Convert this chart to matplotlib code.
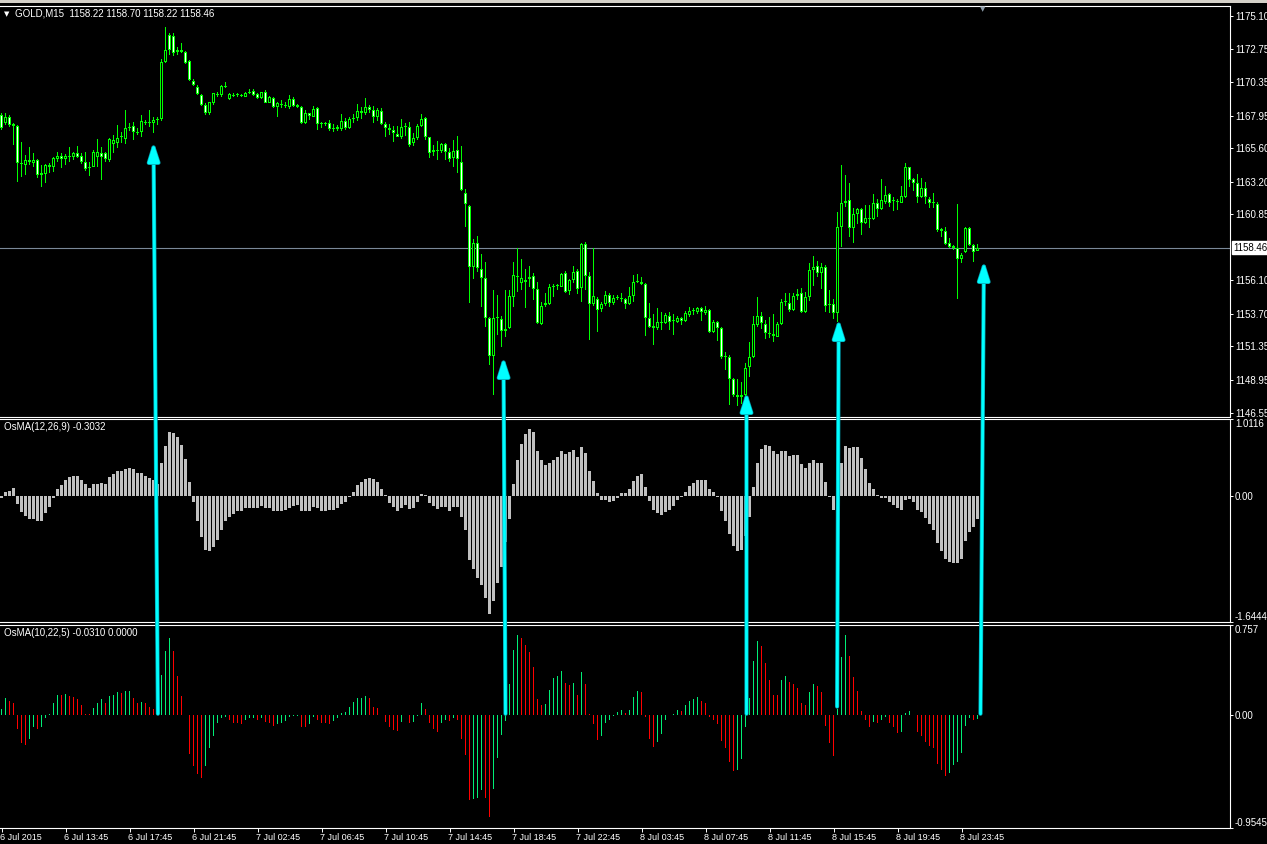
import numpy as np
import matplotlib
matplotlib.use('Agg')
import matplotlib.pyplot as plt
import matplotlib.patheffects as pe
from matplotlib.patches import ConnectionPatch, Rectangle
from matplotlib.transforms import ScaledTranslation

plt.rcParams['font.family'] = ['Liberation Sans', 'DejaVu Sans']

# GOLD M15 candles
opens = [
    1168.00, 1167.40, 1167.88, 1167.33, 1167.23, 1164.52, 1164.40, 1164.76, 1164.57, 1164.76,
    1163.85, 1163.75, 1164.40, 1164.28, 1164.81, 1165.05, 1164.81, 1165.05, 1165.00, 1165.24,
    1165.05, 1164.64, 1164.16, 1164.28, 1165.00, 1165.24, 1165.24, 1164.76, 1165.91, 1165.96,
    1166.39, 1166.25, 1167.04, 1167.21, 1166.80, 1166.80, 1167.52, 1167.40, 1167.40, 1167.64,
    1167.69, 1171.84, 1173.76, 1173.69, 1172.56, 1172.68, 1172.51, 1171.89, 1170.45, 1169.99,
    1169.44, 1168.72, 1168.12, 1168.84, 1169.44, 1169.44, 1170.09, 1169.13, 1169.44, 1169.42,
    1169.46, 1169.32, 1169.61, 1169.75, 1169.49, 1169.20, 1169.63, 1168.89, 1169.20, 1168.55,
    1168.79, 1168.70, 1168.60, 1169.13, 1168.72, 1168.60, 1167.40, 1168.12, 1167.88, 1168.48,
    1167.35, 1167.33, 1167.40, 1167.02, 1166.97, 1166.97, 1167.59, 1167.04, 1167.74, 1167.76,
    1168.31, 1168.12, 1168.55, 1168.36, 1167.88, 1168.29, 1167.33, 1167.09, 1166.92, 1166.61,
    1166.39, 1167.16, 1167.16, 1165.96, 1166.32, 1167.21, 1167.76, 1166.39, 1165.48, 1165.46,
    1165.41, 1165.91, 1165.36, 1164.88, 1165.48, 1164.64, 1162.36, 1161.47, 1157.08, 1158.76,
    1156.89, 1156.24, 1153.36, 1150.65, 1153.36, 1153.29, 1152.47, 1152.64, 1154.92, 1156.36,
    1155.93, 1156.12, 1156.17, 1156.41, 1155.45, 1152.95, 1154.32, 1154.39, 1155.64, 1155.74,
    1155.64, 1156.60, 1155.35, 1156.12, 1156.79, 1155.52, 1158.69, 1156.41, 1154.37, 1154.75,
    1154.01, 1154.37, 1155.04, 1154.44, 1154.80, 1154.82, 1154.73, 1154.37, 1154.97, 1155.98,
    1156.00, 1155.81, 1153.36, 1152.81, 1152.64, 1153.07, 1153.05, 1153.53, 1153.19, 1153.12,
    1153.36, 1153.19, 1153.60, 1153.89, 1153.84, 1154.08, 1153.72, 1153.96, 1152.40, 1153.12,
    1152.64, 1150.60, 1150.60, 1148.97, 1147.86, 1147.72, 1147.84, 1149.83, 1150.55, 1152.88,
    1153.53, 1152.95, 1152.30, 1152.23, 1152.04, 1152.95, 1154.51, 1154.44, 1153.96, 1154.97,
    1155.16, 1153.84, 1154.87, 1156.84, 1157.13, 1156.60, 1157.08, 1154.34, 1154.39, 1153.72,
    1159.96, 1161.64, 1161.88, 1159.89, 1160.85, 1161.21, 1160.25, 1160.54, 1160.49, 1161.64,
    1161.21, 1161.76, 1162.29, 1161.88, 1161.76, 1161.69, 1162.12, 1164.23, 1163.37, 1163.08,
    1162.07, 1162.72, 1161.95, 1161.74, 1161.59, 1159.77, 1159.65, 1158.76, 1158.54, 1158.40,
    1157.61, 1158.16, 1159.89, 1158.64, 1158.22]
highs = [
    1168.12, 1168.12, 1168.00, 1167.40, 1167.28, 1166.08, 1165.12, 1165.72, 1165.24, 1164.81,
    1164.40, 1164.45, 1164.52, 1165.00, 1165.36, 1165.24, 1165.19, 1165.72, 1165.36, 1165.77,
    1165.24, 1165.36, 1164.64, 1165.48, 1166.25, 1165.72, 1165.36, 1166.32, 1166.56, 1167.28,
    1166.80, 1168.36, 1167.45, 1167.52, 1167.04, 1168.00, 1167.64, 1168.36, 1167.88, 1167.83,
    1172.01, 1174.36, 1173.93, 1173.88, 1172.92, 1173.21, 1172.63, 1171.96, 1170.57, 1170.16,
    1169.49, 1168.84, 1168.96, 1169.61, 1169.68, 1170.16, 1170.40, 1169.56, 1169.61, 1169.56,
    1169.51, 1169.66, 1169.85, 1169.85, 1169.56, 1169.68, 1169.80, 1169.37, 1169.27, 1168.96,
    1169.08, 1168.96, 1169.44, 1169.32, 1168.79, 1168.65, 1168.36, 1168.17, 1168.65, 1168.55,
    1167.52, 1167.50, 1167.64, 1167.35, 1167.28, 1168.07, 1167.76, 1167.83, 1168.07, 1168.79,
    1168.55, 1169.20, 1168.70, 1168.65, 1168.48, 1168.48, 1167.52, 1167.35, 1167.21, 1167.21,
    1167.69, 1167.40, 1167.52, 1166.73, 1167.35, 1168.07, 1167.83, 1166.44, 1165.84, 1166.15,
    1166.01, 1165.96, 1165.60, 1166.20, 1166.49, 1165.77, 1162.65, 1161.52, 1159.05, 1159.29,
    1157.99, 1157.44, 1153.48, 1155.40, 1155.04, 1153.53, 1155.40, 1155.40, 1157.44, 1158.40,
    1157.61, 1156.89, 1157.13, 1156.65, 1156.00, 1154.56, 1155.16, 1155.83, 1155.83, 1155.83,
    1156.60, 1156.79, 1156.22, 1157.13, 1156.89, 1158.81, 1158.88, 1156.72, 1158.40, 1154.92,
    1154.56, 1155.35, 1155.16, 1155.04, 1155.04, 1155.16, 1154.80, 1155.64, 1156.48, 1156.55,
    1156.31, 1155.88, 1154.44, 1153.67, 1154.08, 1153.84, 1153.72, 1153.84, 1153.67, 1153.53,
    1153.48, 1153.91, 1154.20, 1154.08, 1154.15, 1154.20, 1154.25, 1154.01, 1153.24, 1153.19,
    1152.71, 1150.96, 1150.72, 1149.04, 1148.97, 1148.80, 1150.12, 1151.68, 1153.53, 1154.92,
    1153.84, 1153.24, 1153.48, 1153.67, 1153.12, 1154.73, 1155.21, 1155.21, 1155.21, 1155.45,
    1155.52, 1155.28, 1157.37, 1157.85, 1157.51, 1157.32, 1157.20, 1155.40, 1154.73, 1161.04,
    1164.40, 1163.68, 1163.13, 1161.28, 1161.28, 1161.28, 1161.52, 1161.52, 1162.31, 1161.93,
    1163.37, 1162.89, 1162.41, 1162.12, 1161.93, 1162.89, 1164.52, 1164.28, 1163.44, 1163.75,
    1163.44, 1163.20, 1162.12, 1162.36, 1161.76, 1159.84, 1159.91, 1159.12, 1158.64, 1161.59,
    1158.09, 1159.96, 1159.96, 1158.71, 1158.70]
lows = [
    1166.92, 1167.28, 1167.16, 1165.84, 1163.20, 1163.56, 1163.68, 1164.40, 1164.28, 1163.44,
    1162.79, 1163.13, 1163.80, 1163.92, 1164.64, 1164.16, 1164.40, 1164.64, 1164.76, 1164.88,
    1164.47, 1163.99, 1163.61, 1164.23, 1164.28, 1163.32, 1164.64, 1164.64, 1165.24, 1165.60,
    1165.96, 1165.91, 1166.87, 1166.20, 1166.56, 1166.44, 1167.28, 1167.16, 1166.73, 1167.28,
    1167.59, 1171.77, 1172.32, 1172.25, 1172.32, 1172.44, 1171.67, 1170.47, 1170.09, 1169.44,
    1168.65, 1168.00, 1168.00, 1168.72, 1169.27, 1169.32, 1169.92, 1169.08, 1169.27, 1169.32,
    1169.27, 1169.27, 1169.51, 1169.37, 1169.13, 1169.13, 1168.84, 1168.84, 1168.48, 1167.83,
    1168.48, 1168.48, 1168.41, 1168.55, 1168.48, 1167.35, 1167.35, 1167.64, 1167.83, 1166.92,
    1167.04, 1167.21, 1166.87, 1166.78, 1166.87, 1166.87, 1166.92, 1166.97, 1167.45, 1167.59,
    1167.69, 1168.00, 1168.17, 1167.45, 1167.59, 1167.26, 1166.39, 1166.56, 1166.08, 1166.39,
    1166.25, 1166.49, 1165.72, 1165.77, 1166.20, 1167.16, 1166.20, 1164.88, 1165.05, 1164.76,
    1165.24, 1164.76, 1164.64, 1164.28, 1163.80, 1162.55, 1159.96, 1154.49, 1156.17, 1156.72,
    1154.20, 1152.76, 1150.00, 1147.84, 1152.16, 1151.27, 1152.04, 1152.57, 1154.20, 1155.28,
    1155.40, 1154.08, 1155.64, 1154.68, 1152.95, 1152.88, 1154.20, 1154.32, 1154.92, 1155.40,
    1155.59, 1155.21, 1155.04, 1155.88, 1155.11, 1154.56, 1155.40, 1151.80, 1154.25, 1152.40,
    1153.84, 1154.25, 1154.15, 1154.32, 1154.68, 1154.56, 1154.01, 1154.30, 1154.56, 1155.88,
    1155.76, 1152.09, 1152.64, 1151.44, 1152.52, 1152.52, 1152.95, 1152.52, 1152.16, 1153.00,
    1152.88, 1153.12, 1153.48, 1153.60, 1153.67, 1153.19, 1153.60, 1152.33, 1152.33, 1151.75,
    1150.41, 1149.64, 1147.12, 1147.72, 1147.05, 1147.19, 1147.60, 1149.16, 1150.48, 1152.76,
    1152.57, 1151.85, 1151.92, 1151.68, 1151.99, 1152.88, 1154.25, 1153.84, 1153.91, 1154.68,
    1153.77, 1153.77, 1154.63, 1155.69, 1156.36, 1155.45, 1153.84, 1153.72, 1153.29, 1153.12,
    1158.52, 1161.35, 1159.19, 1158.76, 1160.15, 1159.36, 1160.15, 1159.84, 1160.44, 1160.63,
    1161.16, 1161.59, 1161.35, 1161.11, 1161.16, 1161.64, 1162.00, 1162.84, 1162.55, 1161.69,
    1162.00, 1161.59, 1161.28, 1161.28, 1159.60, 1159.24, 1158.64, 1158.40, 1158.28, 1154.73,
    1157.32, 1158.09, 1158.57, 1157.44, 1158.22]
closes = [
    1167.04, 1167.88, 1167.28, 1167.23, 1164.52, 1164.47, 1164.76, 1164.64, 1164.76, 1163.68,
    1163.68, 1164.40, 1164.28, 1164.88, 1165.05, 1164.81, 1165.05, 1165.00, 1165.24, 1165.00,
    1164.64, 1164.09, 1164.23, 1165.31, 1165.31, 1165.00, 1164.81, 1166.25, 1166.20, 1166.32,
    1166.44, 1167.04, 1167.11, 1166.80, 1166.73, 1167.59, 1167.45, 1167.52, 1167.64, 1167.71,
    1171.84, 1172.68, 1172.68, 1172.44, 1172.68, 1172.54, 1171.77, 1170.52, 1170.16, 1169.49,
    1168.72, 1168.12, 1168.91, 1169.56, 1169.51, 1170.11, 1169.99, 1169.51, 1169.37, 1169.46,
    1169.37, 1169.61, 1169.66, 1169.44, 1169.20, 1169.63, 1168.89, 1169.27, 1168.55, 1168.84,
    1168.70, 1168.65, 1169.13, 1168.65, 1168.60, 1167.40, 1168.12, 1167.93, 1168.41, 1167.33,
    1167.33, 1167.38, 1166.97, 1166.99, 1167.16, 1167.59, 1167.04, 1167.71, 1167.76, 1168.31,
    1168.12, 1168.60, 1168.36, 1167.88, 1168.36, 1167.33, 1167.09, 1166.92, 1166.68, 1166.44,
    1167.11, 1167.18, 1165.84, 1166.32, 1167.21, 1167.69, 1166.39, 1165.29, 1165.34, 1165.43,
    1165.91, 1165.36, 1164.81, 1165.43, 1164.86, 1162.60, 1161.59, 1157.08, 1158.76, 1156.96,
    1156.24, 1153.36, 1150.65, 1153.36, 1153.41, 1152.47, 1152.62, 1154.97, 1156.46, 1156.41,
    1156.24, 1155.98, 1156.36, 1155.45, 1153.00, 1154.25, 1154.44, 1155.59, 1155.71, 1155.71,
    1156.55, 1155.28, 1156.12, 1156.67, 1155.45, 1158.69, 1156.41, 1154.37, 1154.97, 1153.96,
    1154.39, 1155.04, 1154.44, 1154.80, 1154.82, 1154.78, 1154.37, 1154.97, 1156.00, 1156.02,
    1155.83, 1153.36, 1152.76, 1152.69, 1153.12, 1153.05, 1153.60, 1153.12, 1153.17, 1153.41,
    1153.19, 1153.72, 1153.89, 1153.91, 1154.08, 1153.84, 1153.96, 1152.40, 1153.12, 1152.64,
    1150.60, 1150.55, 1148.97, 1147.84, 1147.72, 1147.84, 1149.76, 1150.55, 1152.95, 1153.53,
    1153.00, 1152.28, 1152.26, 1152.09, 1152.95, 1154.51, 1154.56, 1153.96, 1154.97, 1155.11,
    1153.84, 1154.87, 1156.84, 1157.08, 1156.60, 1157.08, 1154.25, 1154.30, 1153.72, 1159.91,
    1161.64, 1161.83, 1159.89, 1160.85, 1161.21, 1160.25, 1160.56, 1160.56, 1161.64, 1161.21,
    1161.88, 1162.24, 1161.64, 1161.78, 1161.74, 1162.17, 1164.23, 1163.32, 1163.08, 1162.07,
    1162.72, 1162.07, 1161.69, 1161.69, 1159.72, 1159.65, 1158.71, 1158.47, 1158.45, 1157.61,
    1157.92, 1159.89, 1158.64, 1158.16, 1158.46]

# OsMA(12,26,9) histogram
osma_12_26_9 = [
    -0.03, 0.06, 0.07, 0.11, -0.10, -0.21, -0.26, -0.30, -0.30, -0.33,
    -0.32, -0.22, -0.14, -0.02, 0.09, 0.14, 0.21, 0.25, 0.27, 0.26,
    0.21, 0.16, 0.11, 0.16, 0.16, 0.17, 0.16, 0.25, 0.29, 0.33,
    0.33, 0.36, 0.37, 0.35, 0.30, 0.30, 0.27, 0.24, 0.21, 0.16,
    0.43, 0.66, 0.84, 0.83, 0.77, 0.67, 0.49, 0.19, -0.08, -0.33,
    -0.54, -0.71, -0.72, -0.67, -0.58, -0.45, -0.33, -0.27, -0.23, -0.20,
    -0.19, -0.16, -0.16, -0.15, -0.15, -0.13, -0.15, -0.16, -0.19, -0.19,
    -0.19, -0.18, -0.16, -0.13, -0.12, -0.20, -0.19, -0.19, -0.14, -0.16,
    -0.19, -0.19, -0.18, -0.18, -0.16, -0.10, -0.08, -0.01, 0.06, 0.14,
    0.18, 0.22, 0.24, 0.22, 0.18, 0.09, 0.01, -0.09, -0.14, -0.19,
    -0.16, -0.12, -0.17, -0.16, -0.08, 0.03, 0.01, -0.09, -0.13, -0.17,
    -0.14, -0.14, -0.19, -0.14, -0.14, -0.27, -0.44, -0.84, -0.95, -1.08,
    -1.16, -1.33, -1.54, -1.37, -1.14, -0.93, -0.60, -0.30, 0.16, 0.48,
    0.69, 0.81, 0.88, 0.84, 0.59, 0.48, 0.41, 0.44, 0.48, 0.51,
    0.59, 0.55, 0.58, 0.60, 0.51, 0.64, 0.56, 0.33, 0.20, 0.04,
    -0.05, -0.05, -0.08, -0.06, -0.02, 0.04, 0.04, 0.09, 0.20, 0.26,
    0.29, 0.12, -0.07, -0.18, -0.22, -0.25, -0.21, -0.18, -0.13, -0.05,
    -0.01, 0.06, 0.13, 0.17, 0.21, 0.21, 0.21, 0.09, 0.05, -0.01,
    -0.20, -0.33, -0.50, -0.65, -0.72, -0.71, -0.52, -0.27, 0.12, 0.44,
    0.62, 0.67, 0.66, 0.59, 0.55, 0.59, 0.59, 0.52, 0.54, 0.54,
    0.42, 0.37, 0.44, 0.48, 0.44, 0.43, 0.18, -0.01, -0.18, 0.12,
    0.43, 0.66, 0.63, 0.64, 0.64, 0.50, 0.35, 0.17, 0.09, 0.01,
    -0.02, -0.02, -0.08, -0.11, -0.16, -0.18, -0.05, -0.04, -0.08, -0.18,
    -0.21, -0.29, -0.37, -0.45, -0.62, -0.72, -0.83, -0.87, -0.88, -0.88,
    -0.83, -0.59, -0.47, -0.41, -0.3032]

# OsMA(10,22,5) histogram
osma_10_22_5 = [
    0.05, 0.14, 0.12, 0.10, -0.12, -0.24, -0.25, -0.20, -0.10, -0.12,
    -0.10, -0.03, 0.01, 0.10, 0.17, 0.165, 0.18, 0.16, 0.155, 0.13,
    0.08, 0.01, 0.005, 0.06, 0.10, 0.13, 0.10, 0.16, 0.17, 0.19,
    0.185, 0.20, 0.205, 0.14, 0.10, 0.11, 0.10, 0.07, 0.05, 0.02,
    0.34, 0.54, 0.65, 0.54, 0.33, 0.16, 0.00, -0.33, -0.43, -0.50,
    -0.53, -0.43, -0.28, -0.18, -0.07, -0.03, -0.02, -0.04, -0.07, -0.072,
    -0.08, -0.04, -0.03, -0.025, -0.04, -0.03, -0.06, -0.07, -0.09, -0.08,
    -0.07, -0.05, -0.02, -0.01, -0.005, -0.10, -0.105, -0.08, -0.02, -0.04,
    -0.07, -0.072, -0.08, -0.05, -0.03, 0.02, 0.025, 0.07, 0.11, 0.14,
    0.145, 0.16, 0.14, 0.07, 0.06, 0.00, -0.06, -0.10, -0.13, -0.135,
    -0.06, 0.00, -0.07, -0.06, -0.005, 0.10, 0.05, -0.07, -0.12, -0.14,
    -0.07, -0.04, -0.05, -0.03, -0.04, -0.20, -0.34, -0.72, -0.71, -0.70,
    -0.63, -0.70, -0.86, -0.62, -0.36, -0.17, -0.05, 0.26, 0.55, 0.67,
    0.65, 0.59, 0.53, 0.40, 0.13, 0.08, 0.09, 0.21, 0.31, 0.33,
    0.37, 0.27, 0.25, 0.27, 0.17, 0.36, 0.26, 0.01, -0.08, -0.21,
    -0.18, -0.07, -0.045, -0.005, 0.025, 0.04, 0.02, 0.045, 0.15, 0.20,
    0.19, -0.02, -0.20, -0.27, -0.23, -0.16, -0.04, 0.00, 0.01, 0.04,
    0.035, 0.08, 0.12, 0.13, 0.15, 0.12, 0.10, -0.02, -0.04, -0.08,
    -0.22, -0.28, -0.40, -0.47, -0.46, -0.37, -0.10, 0.14, 0.45, 0.62,
    0.58, 0.44, 0.29, 0.17, 0.165, 0.29, 0.33, 0.28, 0.26, 0.23,
    0.10, 0.08, 0.19, 0.26, 0.24, 0.19, -0.09, -0.24, -0.35, 0.05,
    0.49, 0.67, 0.50, 0.32, 0.20, 0.03, -0.04, -0.10, -0.06, -0.07,
    -0.045, -0.02, -0.07, -0.10, -0.15, -0.14, 0.02, 0.03, 0.00, -0.14,
    -0.18, -0.23, -0.26, -0.275, -0.41, -0.46, -0.51, -0.49, -0.42, -0.40,
    -0.32, -0.09, -0.03, -0.04, -0.031]

price_ticks = [1175.10, 1172.75, 1170.35, 1167.95, 1165.60, 1163.20, 1160.85,
               1156.10, 1153.70, 1151.35, 1148.95, 1146.55]
osma1_range = (-1.6444, 1.0116)
osma2_range = (-0.9545, 0.757)
time_labels = ['6 Jul 2015', '6 Jul 13:45', '6 Jul 17:45', '6 Jul 21:45',
               '7 Jul 02:45', '7 Jul 06:45', '7 Jul 10:45', '7 Jul 14:45',
               '7 Jul 18:45', '7 Jul 22:45', '8 Jul 03:45', '8 Jul 07:45',
               '8 Jul 11:45', '8 Jul 15:45', '8 Jul 19:45', '8 Jul 23:45']

# hand drawn cyan arrows: from OsMA(10,22,5) zero line up to the price
arrow_from_bar = [39.1, 126.0, 186.25, 208.9, 244.75]
arrow_from_val = [0.01, 0.01, 0.01, 0.07, 0.01]
arrow_to_bar = [38.0, 125.5, 186.25, 209.3, 245.6]
arrow_to_price = [1165.99, 1150.51, 1147.99, 1153.24, 1157.42]

W, H = 1267, 844
fig = plt.figure(figsize=(W / 100, H / 100), dpi=100, facecolor='black')


def add_panel(top, bottom):
    return fig.add_axes([0, 1 - bottom / H, 1230 / W, (bottom - top) / H])


ax1 = add_panel(6, 416.5)
ax2 = add_panel(419, 621.5)
ax3 = add_panel(625, 828.3)

# 4 px per bar, bar centres on pixel centres
for ax in (ax1, ax2, ax3):
    ax.set_facecolor('black')
    ax.set_xlim(-0.375, 307.125)
    for s in ('top', 'bottom', 'right'):
        ax.spines[s].set_color('white')
        ax.spines[s].set_linewidth(0.8)
    ax.spines['left'].set_visible(False)
    ax.yaxis.tick_right()
    ax.tick_params(axis='y', colors='white', labelsize=7, length=2,
                   width=0.7, pad=1.5, direction='out')
    ax.tick_params(axis='x', bottom=False, labelbottom=False)

x = np.arange(len(closes))
o = np.array(opens)
h = np.array(highs)
l = np.array(lows)
c = np.array(closes)

# candles: white body = bearish, black body = bullish, 1 px green outline
price_lim = (1146.30, 1175.85)
ax1.set_ylim(*price_lim)
one_px = (price_lim[1] - price_lim[0]) / 410.5   # one pixel in price units
ax1.axhline(c[-1], color='#7A8898', lw=0.8, zorder=0.5)
ax1.bar(x, h - l, bottom=l, width=0.25, color='#00FF00', linewidth=0,
        antialiased=False, zorder=1)
lo = np.minimum(o, c)
hi = np.maximum(o, c)
ax1.bar(x, np.maximum(hi - lo, one_px), bottom=lo, width=0.75, color='#00FF00',
        linewidth=0, antialiased=False, zorder=2)
inner = hi - lo - 2 * one_px
face = np.where(c < o, 'white', 'black')
keep = inner > 0
ax1.bar(x[keep], inner[keep], bottom=lo[keep] + one_px, width=0.25,
        color=face[keep], linewidth=0, antialiased=False, zorder=3)
ax1.set_yticks(price_ticks)
ax1.set_yticklabels([f'{v:.2f}' for v in price_ticks])
shift = ScaledTranslation(0.03, 0, fig.dpi_scale_trans)
ax1.text(1.0, c[-1], f'{c[-1]:.2f}', transform=ax1.get_yaxis_transform() + shift,
         ha='left', va='center', fontsize=7, color='black',
         bbox=dict(boxstyle='square,pad=0.15', fc='white', ec='white'))

# OsMA(12,26,9)
ax2.bar(x, osma_12_26_9, width=0.75, color='#C0C0C0', linewidth=0,
        antialiased=False)
ax2.set_ylim(*osma1_range)
ax2.set_yticks([osma1_range[0], 0, osma1_range[1]])
ax2.set_yticklabels([f'{osma1_range[0]:.4f}', '0.00', f'{osma1_range[1]:.4f}'])
lbl = ax2.get_yticklabels()
lbl[0].set_va('bottom')
lbl[2].set_va('top')

# OsMA(10,22,5): green when rising, red when falling
v2 = np.array(osma_10_22_5)
rising = np.concatenate([[True], np.diff(v2) >= 0])
cols = np.where(rising, '#00EE76', '#FF0000')
ax3.bar(x, v2, width=0.25, color=cols, linewidth=0, antialiased=False)
ax3.set_ylim(*osma2_range)
ax3.set_yticks([osma2_range[0], 0, osma2_range[1]])
ax3.set_yticklabels([f'{osma2_range[0]:.4f}', '0.00', f'{osma2_range[1]:.3f}'])
lbl = ax3.get_yticklabels()
lbl[0].set_va('bottom')
lbl[2].set_va('top')

ax3.set_xticks(np.arange(0, len(closes), 16)[:len(time_labels)])
ax3.set_xticklabels(time_labels, ha='left')
ax3.tick_params(axis='x', bottom=True, labelbottom=True, colors='white',
                labelsize=6.5, length=3, width=0.7, pad=0.5, direction='out')
back = ScaledTranslation(-0.02, 0, fig.dpi_scale_trans)
for t in ax3.get_xticklabels():
    t.set_transform(t.get_transform() + back)

# arrows across the panels
for xb0, v0, xb1, p1 in zip(arrow_from_bar, arrow_from_val, arrow_to_bar, arrow_to_price):
    con = ConnectionPatch(xyA=(xb0, v0), coordsA=ax3.transData,
                          xyB=(xb1, p1), coordsB=ax1.transData,
                          arrowstyle='-|>,head_length=1.1,head_width=0.35',
                          mutation_scale=10, color='#00FFFF', lw=2.0, zorder=10)
    con.set_path_effects([pe.withStroke(linewidth=3.0, foreground='#00A0B0')])
    fig.add_artist(con)

# window strip and labels
fig.add_artist(Rectangle((0, 1 - 3 / H), 1, 3 / H, transform=fig.transFigure,
                         facecolor='#D4D0C8', edgecolor='none'))
fig.text(983 / W, 1 - 9 / H, '\u25bc', color='#8C9AA8', fontsize=5,
         family='DejaVu Sans', ha='center', va='center')
fig.text(7 / W, 1 - 14 / H, '\u25bc', color='white', fontsize=5,
         family='DejaVu Sans', ha='center', va='center')
fig.text(15 / W, 1 - 14 / H,
         'GOLD,M15  1158.22 1158.70 1158.22 1158.46',
         color='white', fontsize=7, ha='left', va='center')
fig.text(4 / W, 1 - 427 / H, 'OsMA(12,26,9) -0.3032',
         color='white', fontsize=7, ha='left', va='center')
fig.text(4 / W, 1 - 633 / H, 'OsMA(10,22,5) -0.0310 0.0000',
         color='white', fontsize=7, ha='left', va='center')

fig.savefig('out.png', dpi=100, facecolor='black')
